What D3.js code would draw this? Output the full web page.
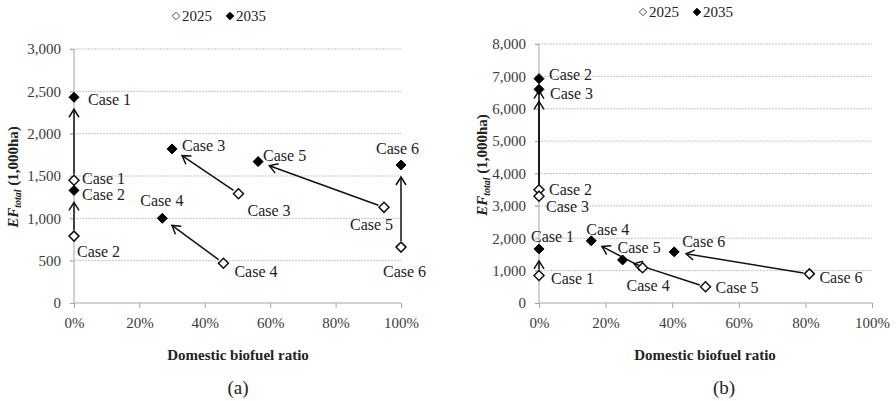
<!DOCTYPE html>
<html>
<head>
<meta charset="utf-8">
<script src="https://cdn.jsdelivr.net/npm/d3@7"></script>
<style>
  body { margin: 0; background: #fff; }
</style>
</head>
<body>
<div id="chart"></div>
<script>
var width = 896,
    height = 401;

var serif = "'Liberation Serif', 'Times New Roman', Times, serif";

var cases = ["Case 1", "Case 2", "Case 3", "Case 4", "Case 5", "Case 6"];
var years = ["2025", "2035"];

// panel (a)
var a2025x = [0, 0, 0.503, 0.457, 0.948, 1.0];
var a2025y = [1450, 790, 1290, 470, 1130, 660];
var a2035x = [0, 0, 0.30, 0.27, 0.563, 1.0];
var a2035y = [2430, 1330, 1820, 1000, 1670, 1630];
var aTicksY = [0, 500, 1000, 1500, 2000, 2500, 3000];

// panel (b)
var b2025x = [0, 0, 0, 0.311, 0.50, 0.812];
var b2025y = [850, 3500, 3300, 1090, 500, 900];
var b2035x = [0, 0, 0, 0.157, 0.251, 0.406];
var b2035y = [1670, 6930, 6600, 1920, 1330, 1580];
var bTicksY = [0, 1000, 2000, 3000, 4000, 5000, 6000, 7000, 8000];

var ticksX = [0, 0.2, 0.4, 0.6, 0.8, 1.0];

// label offsets [dx, dy] from the marker
var aLab2025 = [[8, -1], [3, 16], [9, 17], [11, 9], [-34, 18], [-18, 25]];
var aLab2035 = [[14, 3], [8, 5], [10, -3], [-22, -17], [5, -6], [-25, -16]];
var bLab2025 = [[12, 4], [10, 0], [7, 11], [-16, 18], [10, 1], [10, 4]];
var bLab2035 = [[-8, -12], [10, -4], [11, 5], [-5, -11], [-5, -12], [8, -10]];

var svg = d3.select("#chart").append("svg")
    .attr("width", width)
    .attr("height", height)
    .style("font-family", serif);

var defs = svg.append("defs");
defs.append("marker")
    .attr("id", "arrow")
    .attr("viewBox", "-10 -6 12 12")
    .attr("refX", 0)
    .attr("refY", 0)
    .attr("markerWidth", 12)
    .attr("markerHeight", 12)
    .attr("markerUnits", "userSpaceOnUse")
    .attr("orient", "auto")
    .append("path")
    .attr("d", "M-8,-5L0,0L-8,5")
    .attr("fill", "none")
    .attr("stroke", "#111")
    .attr("stroke-width", 1.5);

var diamond = {
  draw: function(ctx, size) {
    var r = Math.sqrt(size / 2);
    ctx.moveTo(0, -r);
    ctx.lineTo(r, 0);
    ctx.lineTo(0, r);
    ctx.lineTo(-r, 0);
    ctx.closePath();
  }
};

function drawPanel(opt) {
  var x = d3.scaleLinear().domain([0, 1]).range([opt.x0, opt.x1]);
  var y = d3.scaleLinear().domain([0, opt.ymax]).range([303, opt.ytop]);
  var g = svg.append("g");

  // gridlines
  g.selectAll("line.grid")
    .data(opt.ticksY.filter(function(d) { return d > 0; }))
    .enter().append("line")
    .attr("class", "grid")
    .attr("x1", opt.x0 - 4).attr("x2", opt.x1)
    .attr("y1", function(d) { return y(d); })
    .attr("y2", function(d) { return y(d); })
    .attr("stroke", "#c4c4c4")
    .attr("stroke-dasharray", "2,1");

  // y axis
  var yAxis = d3.axisLeft(y)
    .tickValues(opt.ticksY)
    .tickSize(4)
    .tickPadding(9)
    .tickFormat(d3.format(","));
  var ya = g.append("g").attr("transform", "translate(" + opt.x0 + ",0)").call(yAxis)
    .attr("font-family", serif);
  ya.select(".domain").attr("stroke", "#a6a6a6").attr("d", "M0," + y(0) + "V" + y(opt.ymax));
  ya.selectAll(".tick line").attr("stroke", "#a6a6a6");
  ya.selectAll("text")
    .attr("fill", "#3a3a3a")
    .style("font-size", "15px");

  // x axis
  var xAxis = d3.axisBottom(x)
    .tickValues(ticksX)
    .tickSize(5)
    .tickPadding(6)
    .tickFormat(d3.format(".0%"));
  var xa = g.append("g").attr("transform", "translate(0," + y(0) + ")").call(xAxis)
    .attr("font-family", serif);
  xa.select(".domain").attr("stroke", "#a6a6a6").attr("d", "M" + opt.x0 + ",0H" + opt.x1);
  xa.selectAll(".tick line").attr("stroke", "#a6a6a6");
  xa.selectAll("text")
    .attr("fill", "#3a3a3a")
    .attr("dy", "0.95em")
    .style("font-size", "15px");

  // arrows from 2025 to 2035
  cases.forEach(function(c, i) {
    var sx = x(opt.x25[i]), sy = y(opt.y25[i]),
        tx = x(opt.x35[i]), ty = y(opt.y35[i]);
    var dx = tx - sx, dy = ty - sy, len = Math.sqrt(dx * dx + dy * dy);
    var ux = dx / len, uy = dy / len;
    g.append("line")
      .attr("x1", sx + ux * 6).attr("y1", sy + uy * 6)
      .attr("x2", tx - ux * 12).attr("y2", ty - uy * 12)
      .attr("stroke", "#111")
      .attr("stroke-width", 1.5)
      .attr("marker-end", "url(#arrow)");
  });

  // markers
  var sym = d3.symbol().type(diamond).size(50);
  g.selectAll("path.p25")
    .data(cases)
    .enter().append("path")
    .attr("class", "p25")
    .attr("d", sym)
    .attr("transform", function(d, i) { return "translate(" + x(opt.x25[i]) + "," + y(opt.y25[i]) + ")"; })
    .attr("fill", "#fff")
    .attr("stroke", "#111")
    .attr("stroke-width", 1.5);
  g.selectAll("path.p35")
    .data(cases)
    .enter().append("path")
    .attr("class", "p35")
    .attr("d", sym)
    .attr("transform", function(d, i) { return "translate(" + x(opt.x35[i]) + "," + y(opt.y35[i]) + ")"; })
    .attr("fill", "#000")
    .attr("stroke", "#000")
    .attr("stroke-width", 1);

  // labels
  function labels(cls, xs, ys, offs) {
    g.selectAll("text." + cls)
      .data(cases)
      .enter().append("text")
      .attr("class", cls)
      .attr("x", function(d, i) { return x(xs[i]) + offs[i][0]; })
      .attr("y", function(d, i) { return y(ys[i]) + offs[i][1] + 5; })
      .attr("fill", "#222")
      .style("font-size", "16px")
      .text(function(d) { return d; });
  }
  labels("l25", opt.x25, opt.y25, opt.lab25);
  labels("l35", opt.x35, opt.y35, opt.lab35);

  // legend
  var lg = g.append("g").attr("transform", "translate(" + opt.legX + "," + opt.legY + ")");
  var lsym = d3.symbol().type(diamond).size(28);
  years.forEach(function(yr, i) {
    var ox = i * 54;
    lg.append("path")
      .attr("d", lsym)
      .attr("transform", "translate(" + ox + ",0)")
      .attr("fill", i === 0 ? "#fff" : "#000")
      .attr("stroke", i === 0 ? "#555" : "#000")
      .attr("stroke-width", 1);
    lg.append("text")
      .attr("x", ox + 6)
      .attr("y", 5)
      .attr("fill", "#222")
      .style("font-size", "15px")
      .text(yr);
  });

  // axis titles
  g.append("text")
    .attr("x", opt.xTitleX)
    .attr("y", 360)
    .attr("text-anchor", "middle")
    .attr("fill", "#222")
    .style("font-size", "15px")
    .style("font-weight", "bold")
    .text("Domestic biofuel ratio");

  var yt = g.append("text")
    .attr("transform", "translate(" + opt.yTitleX + "," + opt.yTitleY + ")rotate(-90)")
    .attr("text-anchor", "middle")
    .attr("fill", "#222")
    .style("font-size", "15px")
    .style("font-weight", "bold");
  yt.append("tspan").style("font-style", "italic").text("EF");
  yt.append("tspan").style("font-style", "italic").style("font-size", "10px").attr("dy", 3).text("total");
  yt.append("tspan").attr("dy", -3).text(" (1,000ha)");

  g.append("text")
    .attr("x", opt.capX)
    .attr("y", 394)
    .attr("text-anchor", "middle")
    .attr("fill", "#222")
    .style("font-size", "19px")
    .text(opt.caption);
}

drawPanel({
  x0: 74, x1: 401, ytop: 49, ymax: 3000, ticksY: aTicksY,
  x25: a2025x, y25: a2025y, x35: a2035x, y35: a2035y,
  lab25: aLab2025, lab35: aLab2035,
  legX: 176, legY: 16, xTitleX: 238, yTitleX: 18, yTitleY: 177,
  capX: 238, caption: "(a)"
});

drawPanel({
  x0: 539, x1: 872, ytop: 44, ymax: 8000, ticksY: bTicksY,
  x25: b2025x, y25: b2025y, x35: b2035x, y35: b2035y,
  lab25: bLab2025, lab35: bLab2035,
  legX: 643, legY: 12, xTitleX: 705, yTitleX: 487, yTitleY: 165,
  capX: 724, caption: "(b)"
});
</script>
</body>
</html>
